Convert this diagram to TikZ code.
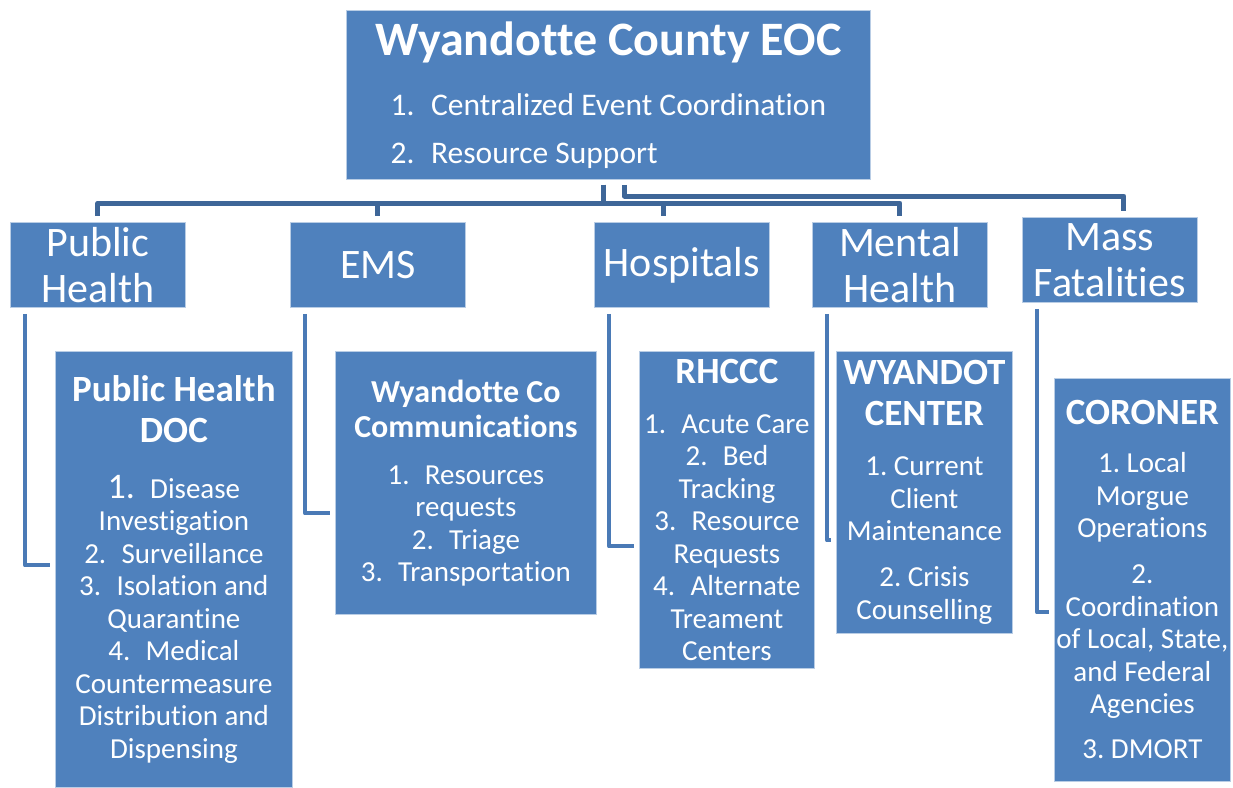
\documentclass[tikz,border=0pt]{standalone}
\usepackage{fontspec}
\setmainfont{Carlito}[Ligatures=NoCommon]
\usepackage{tikz}
\usetikzlibrary{calc}
\usepackage{xcolor}
\definecolor{boxblue}{HTML}{4F81BD}
\definecolor{boxedge}{HTML}{B9CDE5}
\definecolor{busblue}{HTML}{3E6698}
\definecolor{elbowblue}{HTML}{4A7AB6}
\newcommand{\itemgap}{\hspace{0.3em}\ }
\frenchspacing

\begin{document}
\begin{tikzpicture}[x=1pt,y=-1pt,
        orgbox/.style={draw=boxedge, line width=0.8pt, fill=boxblue, text=white,
            inner sep=0pt, anchor=north west, align=center},
        bus/.style={draw=busblue, line width=5pt, line join=round,
            shorten <=5pt, shorten >=6pt},
        elbow/.style={draw=elbowblue, line width=4pt, line join=round, shorten >=5pt}]
        \useasboundingbox (0,0) rectangle (1233,787);

        % Fuentes
        \def\titlefont{\fontsize{48}{50}\selectfont\bfseries}
        \def\unitfont{\fontsize{42}{46}\selectfont}
        \def\headfont{\fontsize{37}{40}\selectfont\bfseries}
        \def\listfont{\fontsize{29}{32.5}\selectfont}

        % EOC
        \node[orgbox, minimum width=524, minimum height=169, font=\fontsize{31.5}{48}\selectfont] (eoc) at (346,10)
            {\rule{0pt}{44pt}{\titlefont Wyandotte County EOC}\\[12pt]
             \begin{tabular}[t]{@{}l@{}}1.\itemgap Centralized Event Coordination\\ 2.\itemgap Resource Support\end{tabular}};

        % Segundo nivel
        \foreach \n/\x/\y/\txt in {ph/10/222/{Public\\Health}, ems/290/222/EMS,
                hosp/594/222/Hospitals, mh/812/222/{Mental\\Health}, mf/1022/217/{Mass\\Fatalities}}
            \node[orgbox, minimum width=175, minimum height=85, font=\unitfont] (\n) at (\x,\y) {\txt};

        % Tercer nivel
        \node[orgbox, minimum width=237, minimum height=436, font=\listfont] (doc) at (55,351)
            {{\headfont Public Health}\\[9pt]{\headfont DOC}\\[23pt]
             {\fontsize{36}{36}\selectfont 1.}\itemgap Disease\\Investigation\\2.\itemgap Surveillance\\
             3.\itemgap Isolation and\\Quarantine\\4.\itemgap Medical\\Countermeasure\\
             Distribution and\\Dispensing};
        \node[orgbox, minimum width=261, minimum height=263, font=\listfont] (comm) at (335,351)
            {{\headfont\fontsize{32}{32}\selectfont Wyandotte Co}\\[2.5pt]{\headfont\fontsize{32}{32}\selectfont Communications}\\[14.5pt]
             1.\itemgap Resources\\requests\\2.\itemgap Triage\\3.\itemgap Transportation};
        \node[orgbox, minimum width=175, minimum height=317, font=\listfont] (rhccc) at (639,351)
            {{\headfont RHCCC}\\[17.5pt]
             1.\itemgap Acute Care\\2.\itemgap Bed\\Tracking\\3.\itemgap Resource\\Requests\\
             4.\itemgap Alternate\\Treament\\Centers};
        \node[orgbox, minimum width=176, minimum height=282, font=\listfont] (wc) at (836,351)
            {{\headfont WYANDOT}\\[8.5pt]{\headfont CENTER}\\[17.5pt]
             1. Current\\Client\\Maintenance\\[13.5pt]2. Crisis\\Counselling};
        \node[orgbox, minimum width=176, minimum height=403, font=\listfont] (cor) at (1054,378)
            {{\headfont CORONER}\\[15.5pt]
             1. Local\\Morgue\\Operations\\[13.5pt]2.\\Coordination\\of Local, State,\\and Federal\\Agencies\\[12.5pt]
             3. DMORT};

        % Conectores desde el EOC
        \foreach \n/\dx in {ph/0, ems/0, hosp/-18, mh/0}
            \draw[bus] ([xshift=-5]eoc.south) |- ([xshift=\dx, yshift=19]\n.north) -- ([xshift=\dx]\n.north);
        \draw[bus] ([xshift=16]eoc.south) |- ([xshift=14, yshift=21]mf.north) -- ([xshift=14]mf.north);

        % Conectores en codo hacia el tercer nivel
        \foreach \a/\b/\dy in {ph/doc/4, ems/comm/-30.5, hosp/rhccc/-36.5, mh/wc/-48, mf/cor/-32.5}
            \draw[elbow] ([xshift=15, yshift=-6]\a.south west) |- ([yshift=\dy]\b.west);

\end{tikzpicture}
\end{document}
